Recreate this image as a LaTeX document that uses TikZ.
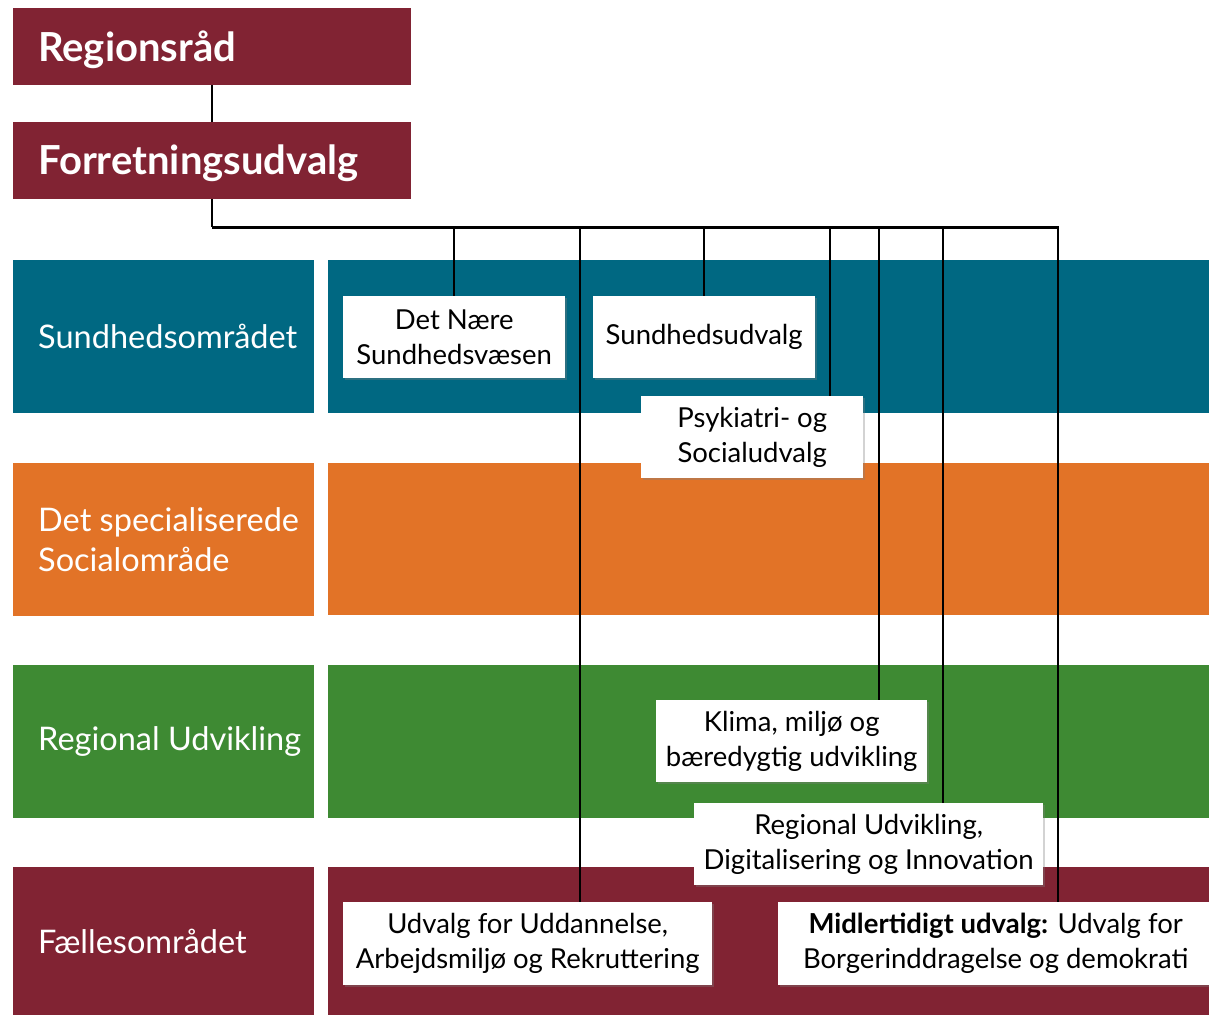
\documentclass[tikz,border=0pt]{standalone}
\usepackage{fontspec}
\setmainfont{Lato}
\usepackage{xcolor}
\usepackage{tikz}
\usetikzlibrary{shadows,calc}

\definecolor{regionred}{RGB}{129,35,51}
\definecolor{sundteal}{RGB}{0,104,130}
\definecolor{socorange}{RGB}{226,115,39}
\definecolor{udvgreen}{RGB}{62,138,51}

\tikzset{
  titlebox/.style={fill=regionred, text=white, anchor=north west, minimum width=398pt,
    minimum height=77pt, inner xsep=25pt, text width=348pt, align=left, text depth=2pt,
    font=\fontsize{40}{46}\selectfont\bfseries},
  bandbox/.style={anchor=north west, minimum width=301pt, minimum height=153pt, inner sep=0pt},
  bandtext/.style={anchor=west, text=white, inner sep=0pt, align=left,
    font=\fontsize{32.5}{40}\selectfont},
  udvalg/.style={fill=white, anchor=north west, align=center, inner sep=0pt,
    font=\fontsize{27.5}{35}\selectfont,
    drop shadow={shadow xshift=2pt, shadow yshift=-2pt, opacity=0.35}},
  link/.style={draw=black, line width=2.2pt}
}

\begin{document}
\begin{tikzpicture}[x=1pt,y=-1pt]
  \useasboundingbox (0,0) rectangle (1209,1015);
  % Top of the organisation
  \node[titlebox] (regr) at (13,8) {Regionsråd};
  \node[titlebox] (fu) at (13,122) {Forretningsudvalg};
  % Bands, left label part
  \node[bandbox, fill=sundteal] (sundomr) at (13,260) {};
  \node[bandbox, fill=socorange] (socomr) at (13,463) {};
  \node[bandbox, fill=udvgreen] (regomr) at (13,665) {};
  \node[bandbox, fill=regionred, minimum height=148pt] (faelomr) at (13,867) {};
  \node[bandtext] (sundtxt) at ($(sundomr.west)+(25,0)$) {Sundhedsområdet};
  \node[bandtext] (soctxt) at ($(socomr.west)+(25,0)$) {Det specialiserede\\Socialområde};
  \node[bandtext] (regtxt) at ($(regomr.west)+(25,0)$) {Regional Udvikling};
  \node[bandtext] (faeltxt) at ($(faelomr.west)+(25,0)$) {Fællesområdet};
  % Bands, right part
  \fill[sundteal] (328,260) rectangle (1209,413);
  \fill[socorange] (328,463) rectangle (1209,615);
  \fill[udvgreen] (328,665) rectangle (1209,818);
  \fill[regionred] (328,867) rectangle (1209,1015);
  % Committees
  \node[udvalg, minimum width=222pt, minimum height=82pt] (naere) at (343,296) {Det Nære\\Sundhedsvæsen};
  \node[udvalg, minimum width=222pt, minimum height=82pt] (sund) at (593,296) {Sundhedsudvalg};
  \node[udvalg, minimum width=222pt, minimum height=82pt] (psyk) at (641,396) {Psykiatri- og\\Socialudvalg};
  \node[udvalg, minimum width=271pt, minimum height=82pt] (klima) at (656,700) {Klima, miljø og\\bæredygtig udvikling};
  \node[udvalg, minimum width=349pt, minimum height=82pt] (regud) at (694,803) {Regional Udvikling,\\Digitalisering og Innovation};
  \node[udvalg, minimum width=369pt, minimum height=83pt] (uddan) at (343,902) {Udvalg for Uddannelse,\\Arbejdsmiljø og Rekruttering};
  \node[udvalg, minimum width=435pt, minimum height=83pt] (midl) at (778,902) {\textbf{Midlertidigt udvalg:} Udvalg for\\Borgerinddragelse og demokrati};
  % Connectors
  \coordinate (bus) at ($(fu.south)+(0,28)$);
  \draw[link] (regr.south) -- (fu.north);
  \draw[link] (fu.south) -- (bus);
  \draw[link] (bus) -| (naere.north);
  \draw[link] (bus) -| (sund.north);
  \draw[link] (bus) -| ($(uddan.north west)+(237,0)$);
  \draw[link] (bus) -| ($(psyk.north west)+(189,0)$);
  \draw[link] (bus) -| ($(klima.north west)+(223,0)$);
  \draw[link] (bus) -| ($(regud.north west)+(249,0)$);
  \draw[link] (bus) -| ($(midl.north west)+(280,0)$);
\end{tikzpicture}
\end{document}
